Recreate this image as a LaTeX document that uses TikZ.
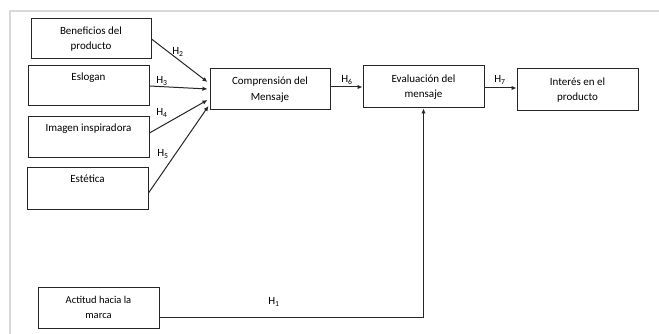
\documentclass[tikz,border=0pt]{standalone}
\usepackage{fontspec}
\setmainfont{Carlito}
\usetikzlibrary{arrows.meta,calc}
\begin{document}
\begin{tikzpicture}[x=1pt,y=-1pt,
  box/.style={draw=black!85, line width=1pt, align=center, inner sep=0pt,
    font=\fontsize{11}{15.5}\selectfont},
  conn/.style={draw=black!85, line width=1pt, -{Latex[length=5pt,width=4.5pt]}},
  hlab/.style={font=\fontsize{11}{12}\selectfont, inner sep=0pt},
  frame/.style={draw=black!15, line width=1.2pt}]
\useasboundingbox (0,0) rectangle (659,334);
\draw[frame] (10,334) -- (10,11) -- (659,11);
\node[box, minimum width=120pt, minimum height=40pt] (ben) at (91,39) {Beneficios del\\producto};
\node[box, minimum width=121pt, minimum height=40pt] (eslo) at (88.5,86) {Eslogan\\[4pt]\mbox{}};
\node[box, minimum width=121pt, minimum height=41pt] (imag) at (88.5,137.5) {Imagen inspiradora\\[4pt]\mbox{}};
\node[box, minimum width=121pt, minimum height=41pt] (este) at (87.5,188.5) {Estética\\[4pt]\mbox{}};
\node[box, minimum width=120pt, minimum height=41pt] (comp) at (270,89.5) {Comprensión del\\Mensaje};
\node[box, minimum width=121pt, minimum height=42pt] (eval) at (423.5,87) {Evaluación del\\mensaje};
\node[box, minimum width=121pt, minimum height=42pt] (inte) at (577.5,90) {Interés en el\\producto};
\node[box, minimum width=121pt, minimum height=41pt, font=\fontsize{10.5}{15}\selectfont] (act) at (98.5,307.5) {Actitud hacia la\\marca};
\draw[conn] (ben.east) -- ($(comp.west)+(-2,-7.5)$);
\draw[conn] (eslo.east) -- ($(comp.west)+(-2,-0.5)$);
\draw[conn] ($(imag.east)+(0,-4.5)$) -- ($(comp.west)+(-2,10.5)$);
\draw[conn] ($(este.east)+(0,4.5)$) -- ($(comp.west)+(-1,16.5)$);
\draw[conn] ($(comp.east)+(0,-2.5)$) -- ($(eval.west)+(0,0)$);
\draw[conn] ($(eval.east)+(0,1)$) -- ($(inte.west)+(0,-2)$);
\draw[conn] ($(act.east)+(0,9.5)$) -| (eval.south);
\node[hlab] (h2) at (178,52) {H\textsubscript{2}};
\node[hlab] (h3) at (162,81) {H\textsubscript{3}};
\node[hlab] (h4) at (162,113) {H\textsubscript{4}};
\node[hlab] (h5) at (163,154) {H\textsubscript{5}};
\node[hlab] (h6) at (347,80) {H\textsubscript{6}};
\node[hlab] (h7) at (500,80) {H\textsubscript{7}};
\node[hlab] (h1) at (274,302) {H\textsubscript{1}};
\end{tikzpicture}
\end{document}
